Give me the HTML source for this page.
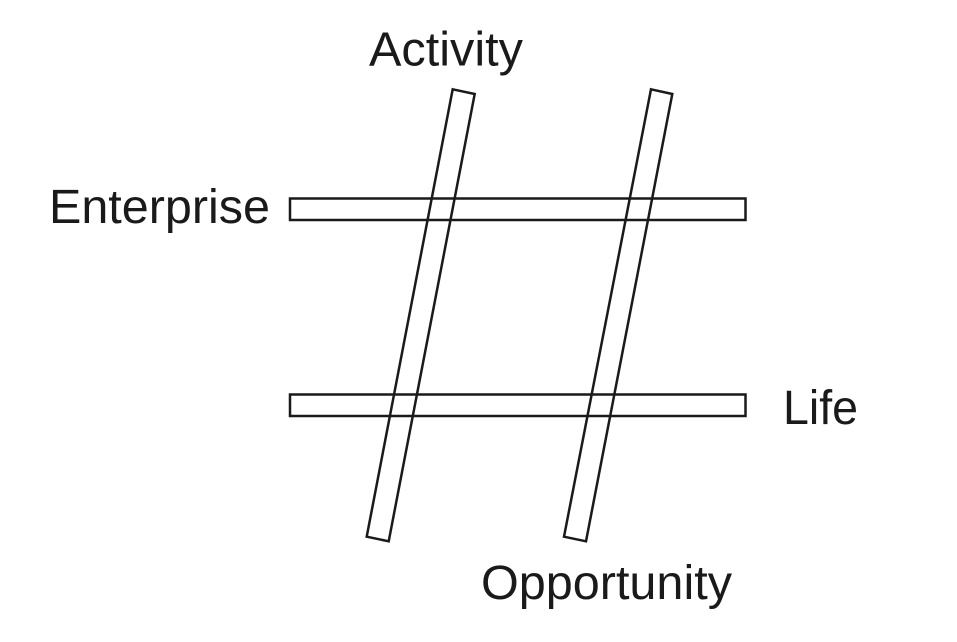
<!DOCTYPE html>
<html><head><meta charset="utf-8"><style>html,body{margin:0;padding:0;background:#fff}svg{display:block}</style></head>
<body>
<svg width="957" height="642" viewBox="0 0 957 642" xmlns="http://www.w3.org/2000/svg">
<g fill="#fff" stroke="#1a1a1a" stroke-width="2.5" stroke-linejoin="miter">
<polygon points="452.7,89.3 474.7,94 388.7,541.3 366.7,536.7"/>
<polygon points="651,89.3 672.3,94 586,541.3 564,536.7"/>
<rect x="290" y="198.5" width="455.5" height="21.5" fill="none"/>
<rect x="290" y="394.5" width="455.5" height="21.5" fill="none"/>
</g>
<g font-family="Liberation Sans, Arial, sans-serif" font-size="48" fill="#1a1a1a">
<text x="369" y="65.5" textLength="154" lengthAdjust="spacingAndGlyphs">Activity</text>
<text x="49" y="223" textLength="221" lengthAdjust="spacingAndGlyphs">Enterprise</text>
<text x="783" y="424" textLength="75" lengthAdjust="spacingAndGlyphs">Life</text>
<text x="481" y="599" textLength="251" lengthAdjust="spacingAndGlyphs">Opportunity</text>
</g>
</svg>
</body></html>
